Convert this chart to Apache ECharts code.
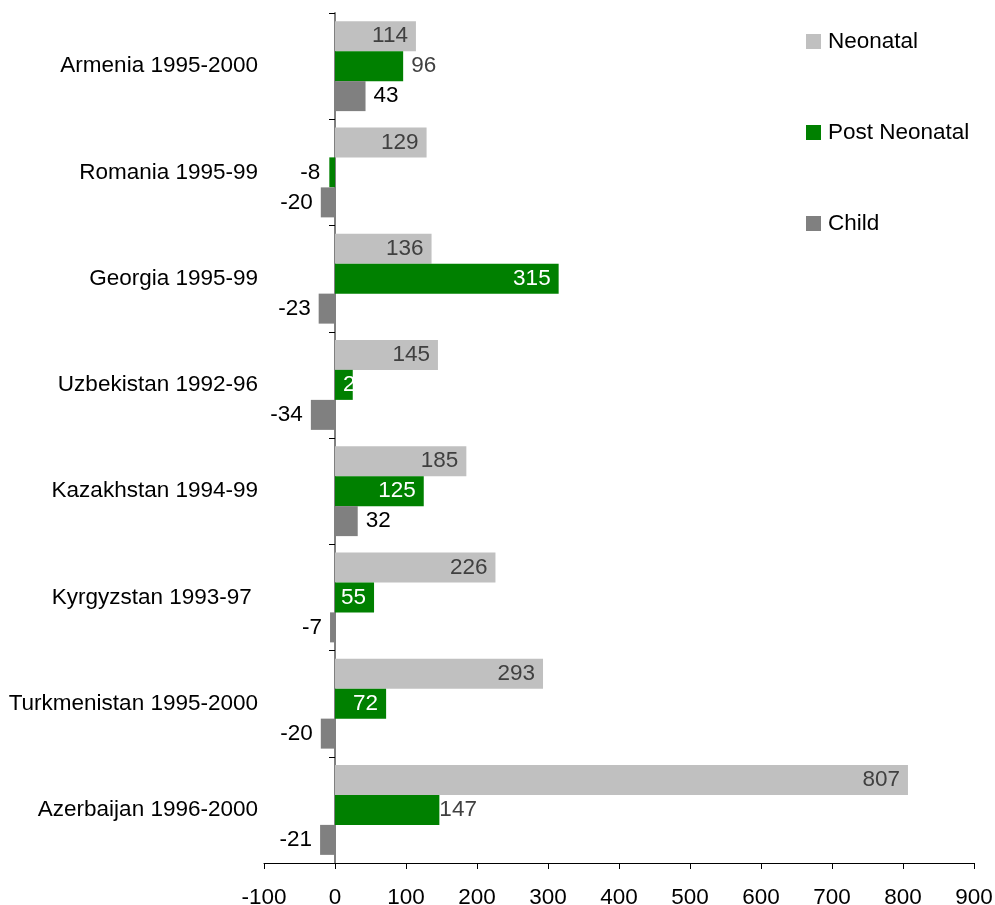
<!DOCTYPE html>
<html>
<head>
<meta charset="utf-8">
<script src="https://cdn.jsdelivr.net/npm/echarts@6/dist/echarts.min.js"></script>
<style>
  html, body { margin: 0; padding: 0; background: #ffffff; }
  #chart { width: 995px; height: 905px; }
</style>
</head>
<body>
<div id="chart"></div>
<script>
// Survey periods, listed top to bottom
const categories = [
  'Armenia 1995-2000',
  'Romania 1995-99',
  'Georgia 1995-99',
  'Uzbekistan 1992-96',
  'Kazakhstan 1994-99',
  'Kyrgyzstan 1993-97 ',
  'Turkmenistan 1995-2000',
  'Azerbaijan 1996-2000'
];

const neonatal = [114, 129, 136, 145, 185, 226, 293, 807];
const postNeonatal = [96, -8, 315, 25, 125, 55, 72, 147];
const child = [43, -20, -23, -34, 32, -7, -20, -21];

const xTicks = { min: -100, max: 900, step: 100 };

const FONT = '"Liberation Sans", Arial, sans-serif';
const FS = 22.5;

// Post neonatal labels: white inside the bar, with a few bars labelled outside
function postLabel(v, i) {
  if (v < 0) {
    return { position: 'left', color: '#000000', distance: 9 };
  }
  if (i === 0) {
    return { position: 'right', color: '#404040', distance: 8 };
  }
  if (i === 7) {
    return { position: 'right', color: '#404040', distance: 0 };
  }
  if (i === 3) {
    return { position: 'insideLeft', color: '#ffffff', distance: 8 };
  }
  return { position: 'insideRight', color: '#ffffff', distance: 8 };
}

const chart = echarts.init(document.getElementById('chart'), null, { renderer: 'canvas' });

chart.setOption({
  animation: false,
  backgroundColor: '#ffffff',
  textStyle: { fontFamily: FONT },
  legend: {
    orient: 'vertical',
    left: 801,
    top: 25,
    itemWidth: 15,
    itemHeight: 15,
    itemGap: 68,
    icon: 'rect',
    textStyle: { fontFamily: FONT, fontSize: FS, color: '#000000', padding: [0, 0, 0, 2] },
    data: ['Neonatal', 'Post Neonatal', 'Child']
  },
  grid: {
    left: 264,
    right: 21,
    top: 13,
    bottom: 42,
    containLabel: false,
    outerBoundsMode: 'none'
  },
  xAxis: {
    type: 'value',
    min: xTicks.min,
    max: xTicks.max,
    interval: xTicks.step,
    splitLine: { show: false },
    axisLine: { show: true, onZero: false, lineStyle: { color: '#000000', width: 1 } },
    axisTick: { show: true, length: 6, lineStyle: { color: '#000000' } },
    axisLabel: { fontFamily: FONT, fontSize: FS, color: '#000000', margin: 23 }
  },
  yAxis: {
    type: 'category',
    inverse: true,
    data: categories,
    axisLine: { show: true, onZero: true, lineStyle: { color: '#808080', width: 2 } },
    axisTick: { show: true, length: 6, lineStyle: { color: '#000000' } },
    axisLabel: { fontFamily: FONT, fontSize: FS, color: '#000000', margin: 6 }
  },
  series: [
    {
      name: 'Neonatal',
      type: 'bar',
      barWidth: 30,
      barGap: '0%',
      itemStyle: { color: '#C0C0C0' },
      label: {
        show: true,
        position: 'insideRight',
        distance: 8,
        fontFamily: FONT,
        fontSize: FS,
        color: '#404040'
      },
      data: neonatal
    },
    {
      name: 'Post Neonatal',
      type: 'bar',
      barWidth: 30,
      barGap: '0%',
      itemStyle: { color: '#008000' },
      label: { show: true, fontFamily: FONT, fontSize: FS },
      data: postNeonatal.map((v, i) => ({ value: v, label: postLabel(v, i) }))
    },
    {
      name: 'Child',
      type: 'bar',
      barWidth: 30,
      barGap: '0%',
      itemStyle: { color: '#808080' },
      label: { show: true, fontFamily: FONT, fontSize: FS, color: '#000000' },
      data: child.map(v => ({
        value: v,
        label: { position: v < 0 ? 'left' : 'right', distance: 8 }
      }))
    }
  ]
});
</script>
</body>
</html>
